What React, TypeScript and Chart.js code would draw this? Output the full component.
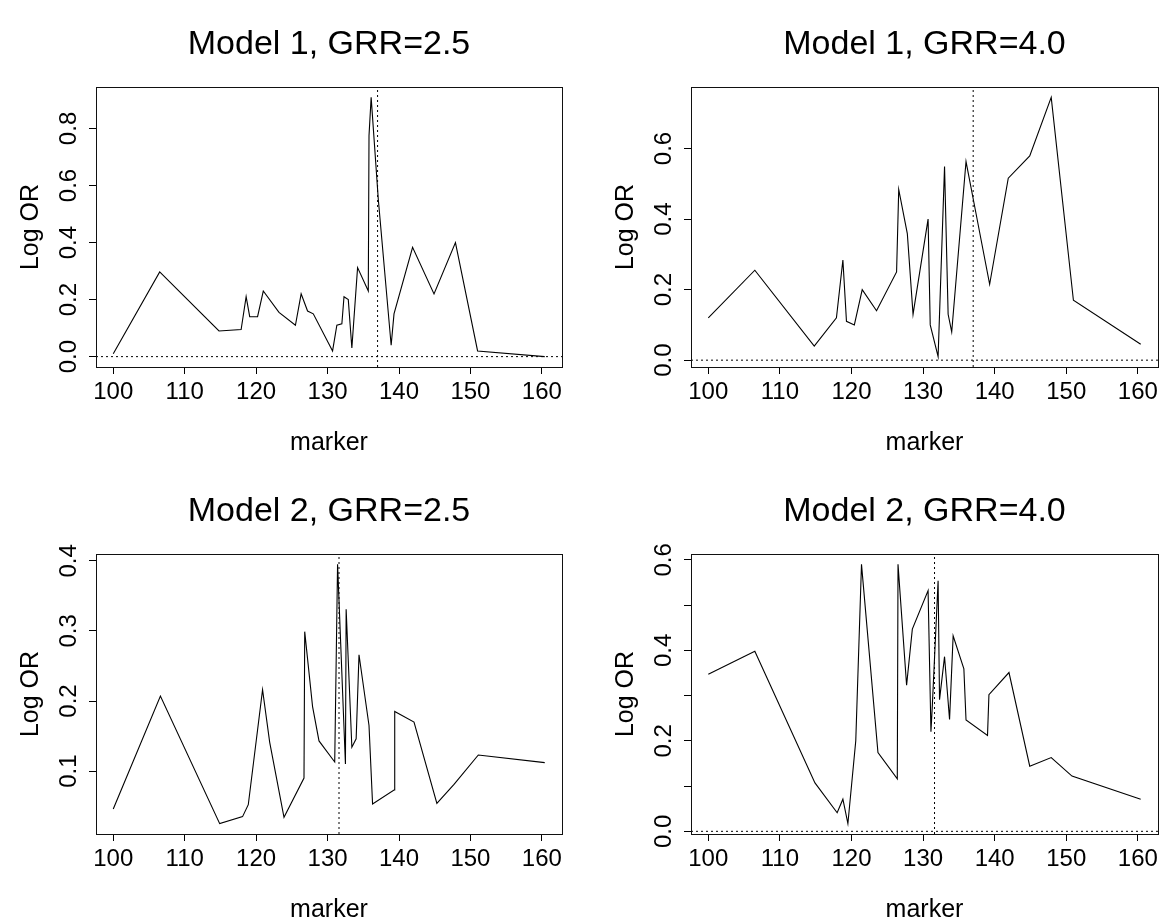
import React, { useEffect, useRef } from 'react';
import { Chart, registerables } from 'chart.js';

Chart.register(...registerables);

const FONT = "'Liberation Sans', Arial, Helvetica, sans-serif";

const xTicks = [100, 110, 120, 130, 140, 150, 160];

// Model 1, GRR=2.5
const m1x = [100.0, 106.5, 114.8, 117.9, 118.6, 119.1, 120.2, 121.0, 123.2, 125.5, 126.3, 127.2, 128.0, 130.7, 131.3, 132.0, 132.3, 132.9, 133.4, 134.2, 135.7, 135.8, 136.1, 137.1, 138.9, 139.3, 141.9, 144.9, 147.9, 151.0, 160.4];
const m1y = [0.01, 0.297, 0.09, 0.095, 0.21, 0.14, 0.14, 0.23, 0.155, 0.11, 0.22, 0.16, 0.15, 0.02, 0.11, 0.115, 0.21, 0.20, 0.03, 0.312, 0.23, 0.774, 0.909, 0.552, 0.04, 0.15, 0.383, 0.22, 0.40, 0.02, 0.0];

// Model 1, GRR=4.0
const m2x = [100.0, 106.5, 114.8, 117.9, 118.8, 119.3, 120.4, 121.5, 123.5, 126.3, 126.6, 127.8, 128.6, 130.7, 131.0, 132.1, 133.0, 133.5, 134.0, 136.0, 137.1, 139.3, 141.9, 144.9, 147.9, 151.0, 160.4];
const m2y = [0.12, 0.255, 0.04, 0.12, 0.284, 0.11, 0.10, 0.20, 0.14, 0.25, 0.484, 0.359, 0.13, 0.40, 0.10, 0.01, 0.549, 0.13, 0.08, 0.563, 0.447, 0.215, 0.516, 0.579, 0.745, 0.17, 0.045];

// Model 2, GRR=2.5
const m3x = [100.0, 106.6, 114.9, 118.1, 118.9, 120.9, 121.9, 123.9, 126.7, 126.8, 127.9, 128.8, 131.0, 131.4, 132.5, 132.6, 133.4, 134.0, 134.4, 135.8, 136.3, 139.3, 139.4, 142.1, 145.3, 147.7, 151.1, 160.4];
const m3y = [0.046, 0.207, 0.025, 0.035, 0.052, 0.216, 0.141, 0.034, 0.090, 0.299, 0.192, 0.143, 0.113, 0.395, 0.110, 0.331, 0.134, 0.146, 0.266, 0.165, 0.053, 0.073, 0.185, 0.170, 0.054, 0.081, 0.123, 0.112];

// Model 2, GRR=4.0
const m4x = [100.0, 106.5, 114.9, 118.0, 118.8, 119.5, 120.6, 121.4, 123.7, 126.4, 126.5, 127.7, 128.5, 130.7, 131.1, 131.3, 132.1, 132.3, 133.0, 133.7, 134.2, 135.7, 136.0, 139.0, 139.2, 142.0, 144.9, 147.9, 150.8, 160.4];
const m4y = [0.347, 0.398, 0.107, 0.041, 0.071, 0.017, 0.20, 0.59, 0.174, 0.116, 0.59, 0.323, 0.447, 0.532, 0.22, 0.28, 0.554, 0.291, 0.386, 0.247, 0.432, 0.359, 0.246, 0.212, 0.302, 0.351, 0.144, 0.163, 0.122, 0.071];

const titles = ['Model 1, GRR=2.5', 'Model 1, GRR=4.0', 'Model 2, GRR=2.5', 'Model 2, GRR=4.0'];
const yTicks1 = [0, 0.2, 0.4, 0.6, 0.8];
const yTicks2 = [0, 0.2, 0.4, 0.6];
const yTicks3 = [0.1, 0.2, 0.3, 0.4];
const yTicks4 = [0, 0.1, 0.2, 0.3, 0.4, 0.5, 0.6];
const yLabels1 = [0, 0.2, 0.4, 0.6, 0.8];
const yLabels2 = [0, 0.2, 0.4, 0.6];
const yLabels3 = [0.1, 0.2, 0.3, 0.4];
const yLabels4 = [0, 0.2, 0.4, 0.6];
const causalLocus = [137.0, 137.0, 131.6, 131.6];

type PanelDef = {
  title: string;
  xs: number[];
  ys: number[];
  yTicks: number[];
  yLabels: number[];
  causal: number;
  canvas: { left: number; top: number; w: number; h: number };
  box: { L: number; T: number; R: number; B: number };
  titleY: number;
};

const boxPlugin = {
  id: 'rbox',
  afterDraw(chart: any) {
    const { ctx, chartArea: a } = chart;
    ctx.save();
    ctx.strokeStyle = '#111';
    ctx.lineWidth = 1;
    ctx.strokeRect(Math.round(a.left) + 0.5, Math.round(a.top) + 0.5, Math.round(a.right - a.left), Math.round(a.bottom - a.top));
    ctx.restore();
  },
};

function Panel({ p }: { p: PanelDef }) {
  const ref = useRef<HTMLCanvasElement>(null);
  useEffect(() => {
    const { xs, ys, yTicks, yLabels } = p;
    const xMin = Math.min(...xs), xMax = Math.max(...xs);
    const xr = xMax - xMin;
    const xlo = xMin - 0.04 * xr, xhi = xMax + 0.04 * xr;
    const yMin = Math.min(...ys), yMax = Math.max(...ys);
    const yr = yMax - yMin;
    const ylo = yMin - 0.04 * yr, yhi = yMax + 0.04 * yr;

    const { w, h } = p.canvas;
    const { L, T, R, B } = p.box;
    const titleSize = 34;
    const titleLH = titleSize * 1.2;
    const tickSize = 24;
    const labSize = 25;
    const labLH = labSize * 1.2;

    const chart = new Chart(ref.current as HTMLCanvasElement, {
      type: 'scatter',
      data: {
        datasets: [
          {
            data: xs.map((x, i) => ({ x, y: ys[i] })),
            showLine: true,
            borderColor: '#000',
            borderWidth: 1.1,
            pointRadius: 0,
            tension: 0,
          },
          {
            data: [{ x: xlo, y: 0 }, { x: xhi, y: 0 }],
            showLine: true,
            borderColor: '#000',
            borderWidth: 1,
            borderDash: [2, 3],
            pointRadius: 0,
          },
          {
            data: [{ x: p.causal, y: ylo }, { x: p.causal, y: yhi }],
            showLine: true,
            borderColor: '#000',
            borderWidth: 1,
            borderDash: [2, 3],
            pointRadius: 0,
          },
        ],
      },
      options: {
        responsive: false,
        animation: false,
        devicePixelRatio: 1,
        layout: { padding: { left: 0, top: 0, right: w - R, bottom: 0 } },
        plugins: {
          legend: { display: false },
          tooltip: { enabled: false },
          title: {
            display: true,
            text: p.title,
            fullSize: false,
            color: '#000',
            font: { family: FONT, size: titleSize, weight: 'normal' as any },
            padding: { top: p.titleY - titleLH / 2, bottom: T - p.titleY - titleLH / 2 },
          },
        },
        scales: {
          x: {
            type: 'linear',
            min: xlo,
            max: xhi,
            afterBuildTicks: (s: any) => {
              s.ticks = xTicks.map((v) => ({ value: v }));
            },
            afterFit: (s: any) => {
              s.height = h - B;
            },
            grid: { display: true, drawOnChartArea: false, drawTicks: true, tickLength: 7, color: '#000', lineWidth: 1 },
            border: { display: false },
            ticks: {
              color: '#000',
              font: { family: FONT, size: tickSize },
              padding: 4,
              maxRotation: 0,
              minRotation: 0,
              autoSkip: false,
              callback: (v: any) => String(v),
            },
            title: {
              display: true,
              text: 'marker',
              color: '#000',
              font: { family: FONT, size: labSize },
              padding: { top: 0, bottom: h - B - 76 - labLH / 2 },
            },
          },
          y: {
            type: 'linear',
            min: ylo,
            max: yhi,
            afterBuildTicks: (s: any) => {
              s.ticks = yTicks.map((v) => ({ value: v }));
            },
            afterFit: (s: any) => {
              s.width = L;
            },
            grid: { display: true, drawOnChartArea: false, drawTicks: true, tickLength: 7, color: '#000', lineWidth: 1 },
            border: { display: false },
            ticks: {
              color: '#000',
              font: { family: FONT, size: tickSize },
              minRotation: 90,
              maxRotation: 90,
              crossAlign: 'center',
              padding: 3,
              autoSkip: false,
              callback: (v: any) => (yLabels.some((l) => Math.abs(l - v) < 1e-9) ? Number(v).toFixed(1) : ''),
            },
            title: {
              display: true,
              text: 'Log OR',
              color: '#000',
              font: { family: FONT, size: labSize },
              padding: { top: L - 65 - labLH / 2, bottom: 0 },
            },
          },
        },
      },
      plugins: [boxPlugin],
    } as any);
    return () => chart.destroy();
  }, [p]);

  return (
    <canvas
      ref={ref}
      width={p.canvas.w}
      height={p.canvas.h}
      style={{ position: 'absolute', left: p.canvas.left, top: p.canvas.top, width: p.canvas.w, height: p.canvas.h }}
    />
  );
}

const panels: PanelDef[] = [
  { title: titles[0], xs: m1x, ys: m1y, yTicks: yTicks1, yLabels: yLabels1, causal: causalLocus[0], canvas: { left: 0, top: 0, w: 583, h: 460 }, box: { L: 96, T: 87, R: 562, B: 367 }, titleY: 45 },
  { title: titles[1], xs: m2x, ys: m2y, yTicks: yTicks2, yLabels: yLabels2, causal: causalLocus[1], canvas: { left: 583, top: 0, w: 583, h: 460 }, box: { L: 108, T: 87, R: 575, B: 367 }, titleY: 45 },
  { title: titles[2], xs: m3x, ys: m3y, yTicks: yTicks3, yLabels: yLabels3, causal: causalLocus[2], canvas: { left: 0, top: 460, w: 583, h: 459 }, box: { L: 96, T: 94, R: 562, B: 374 }, titleY: 52 },
  { title: titles[3], xs: m4x, ys: m4y, yTicks: yTicks4, yLabels: yLabels4, causal: causalLocus[3], canvas: { left: 583, top: 460, w: 583, h: 459 }, box: { L: 108, T: 94, R: 575, B: 374 }, titleY: 52 },
];

export default function App() {
  return (
    <div style={{ position: 'absolute', left: 0, top: 0, width: 1166, height: 919, background: '#fff' }}>
      {panels.map((p, i) => (
        <Panel key={i} p={p} />
      ))}
    </div>
  );
}
